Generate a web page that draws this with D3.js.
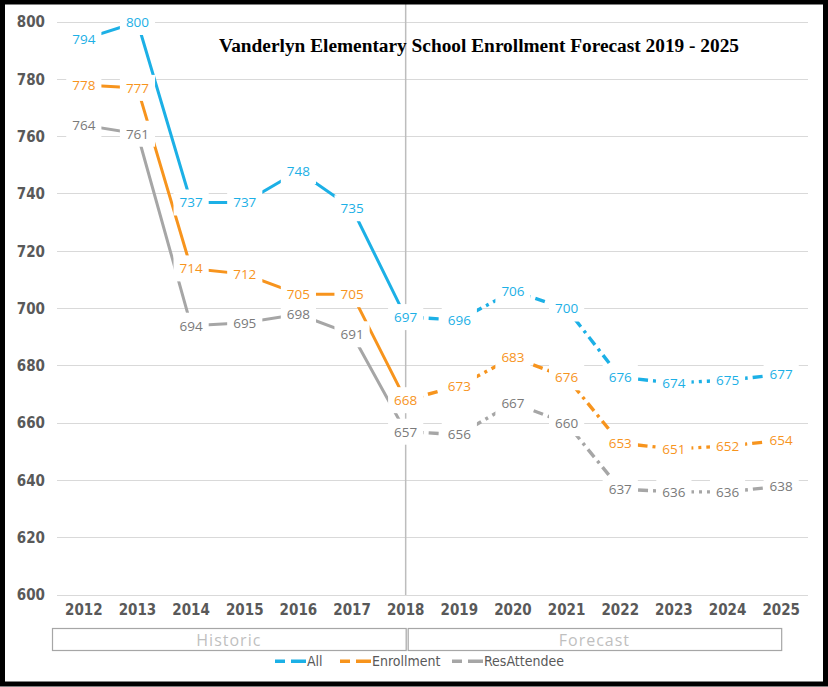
<!DOCTYPE html>
<html><head><meta charset="utf-8">
<script src="https://cdn.jsdelivr.net/npm/d3@7"></script>
<style>body{margin:0;background:#fff}svg{display:block}</style>
</head><body><svg id="c" width="828" height="687"></svg>
<script>
const years = ["2012","2013","2014","2015","2016","2017","2018","2019","2020","2021","2022","2023","2024","2025"];
const allVals = [794,800,737,737,748,735,697,696,706,700,676,674,675,677];
const enrollVals = [778,777,714,712,705,705,668,673,683,676,653,651,652,654];
const resVals = [764,761,694,695,698,691,657,656,667,660,637,636,636,638];
const yTicks = [600,620,640,660,680,700,720,740,760,780,800];
const seriesNames = ["All","Enrollment","ResAttendee"];
const splitYear = "2018";
const title = "Vanderlyn Elementary School Enrollment Forecast 2019 - 2025";
const periodLabels = ["Historic","Forecast"];

const series = [
  {name:seriesNames[0], vals:allVals, color:"#1cb0e6", label:"#1cb0e6"},
  {name:seriesNames[1], vals:enrollVals, color:"#f7941d", label:"#f7941d"},
  {name:seriesNames[2], vals:resVals, color:"#a6a6a6", label:"#7a7a7a"}
];

const svg = d3.select("#c");
const x = d3.scaleBand().domain(years).range([57,808]).padding(0);
const cx = d => x(d) + x.bandwidth()/2;
const y = d3.scaleLinear().domain([600,800]).range([595,22]);

// gridlines
svg.append("g").selectAll("line").data(yTicks).join("line")
  .attr("x1",57).attr("x2",808).attr("y1",d=>y(d)).attr("y2",d=>y(d))
  .attr("stroke","#d9d9d9").attr("stroke-width",1).attr("shape-rendering","crispEdges");

// y labels
const yAxis = d3.axisLeft(y).tickValues(yTicks).tickSize(0).tickPadding(0);
const gy = svg.append("g").attr("transform","translate(45,0)").call(yAxis);
gy.select(".domain").remove();
gy.selectAll("text").attr("font-family","'Liberation Sans Narrow','DejaVu Sans Condensed',sans-serif")
  .attr("font-weight","bold").attr("font-size",15).attr("fill","#595959");

// x labels
const xAxis = d3.axisBottom(x).tickSize(0).tickPadding(0);
const gx = svg.append("g").attr("transform","translate(0,604)").call(xAxis);
gx.select(".domain").remove();
gx.selectAll("text").attr("font-family","'Liberation Sans Narrow','DejaVu Sans Condensed',sans-serif")
  .attr("font-weight","bold").attr("font-size",15).attr("fill","#595959");

// vertical divider
svg.append("line").attr("x1",cx(splitYear)).attr("x2",cx(splitYear)).attr("y1",4).attr("y2",595)
  .attr("stroke","#bdbdbd").attr("stroke-width",1.5);

// title
svg.append("text").attr("x",479).attr("y",52).attr("text-anchor","middle")
  .attr("font-family","'Liberation Serif','DejaVu Serif',serif").attr("font-weight","bold")
  .attr("font-size",18).attr("fill","#000").attr("textLength",520).attr("lengthAdjust","spacingAndGlyphs")
  .text(title);

const splitIdx = years.indexOf(splitYear);
const line = d3.line().x(d=>cx(d.year)).y(d=>y(d.v));
series.forEach(s=>{
  const pts = years.map((yr,i)=>({year:yr, v:s.vals[i]}));
  svg.append("path").datum(pts.slice(0,splitIdx+1)).attr("d",line)
    .attr("fill","none").attr("stroke",s.color).attr("stroke-width",3).attr("stroke-linejoin","round");
  svg.append("path").datum(pts.slice(splitIdx)).attr("d",line)
    .attr("fill","none").attr("stroke",s.color).attr("stroke-width",3.4)
    .attr("stroke-dasharray","10,5,3,5");
});

// data labels with white boxes
series.forEach(s=>{
  years.forEach((yr,i)=>{
    const g = svg.append("g").attr("transform",`translate(${cx(yr)},${y(s.vals[i])})`);
    const r = g.append("rect").attr("fill","#fff");
    const t = g.append("text").attr("text-anchor","middle").attr("dy","0.36em")
      .attr("font-family","'Open Sans','Noto Sans',sans-serif").attr("font-size",13.5)
      .attr("fill",s.label).text(s.vals[i]);
    const w = t.node().getComputedTextLength();
    r.attr("x",-w/2-6).attr("y",-13).attr("width",w+12).attr("height",26);
  });
});

// period boxes
const boxes = [
  {label:periodLabels[0], x0:52, x1:cx(splitYear)},
  {label:periodLabels[1], x0:cx(splitYear)+2, x1:cx(years[years.length-1])}
];
boxes.forEach(b=>{
  svg.append("rect").attr("x",b.x0+0.5).attr("y",628.5).attr("width",b.x1-b.x0).attr("height",22)
    .attr("fill","#fff").attr("stroke","#a6a6a6").attr("stroke-width",1.2);
  svg.append("text").attr("x",(b.x0+b.x1)/2).attr("y",645.5).attr("text-anchor","middle")
    .attr("font-family","'Open Sans','Noto Sans',sans-serif").attr("font-size",16)
    .attr("letter-spacing",1).attr("fill","#bfbfbf").text(b.label);
});

// legend
const legX = [275,340,452];
series.forEach((s,i)=>{
  const g = svg.append("g").attr("transform",`translate(${legX[i]},661)`);
  g.append("rect").attr("x",0).attr("y",-1.5).attr("width",10).attr("height",3.5).attr("fill",s.color);
  g.append("rect").attr("x",16).attr("y",-1.5).attr("width",15).attr("height",3.5).attr("fill",s.color);
  g.append("text").attr("x",32).attr("y",0).attr("dy","0.36em")
    .attr("font-family","'Liberation Sans Narrow','DejaVu Sans Condensed',sans-serif")
    .attr("font-size",14).attr("fill","#595959").text(s.name);
});

// outer border
svg.append("rect").attr("x",2.5).attr("y",2).attr("width",823).attr("height",682)
  .attr("fill","none").attr("stroke","#000").attr("stroke-width",5);
</script></body></html>
